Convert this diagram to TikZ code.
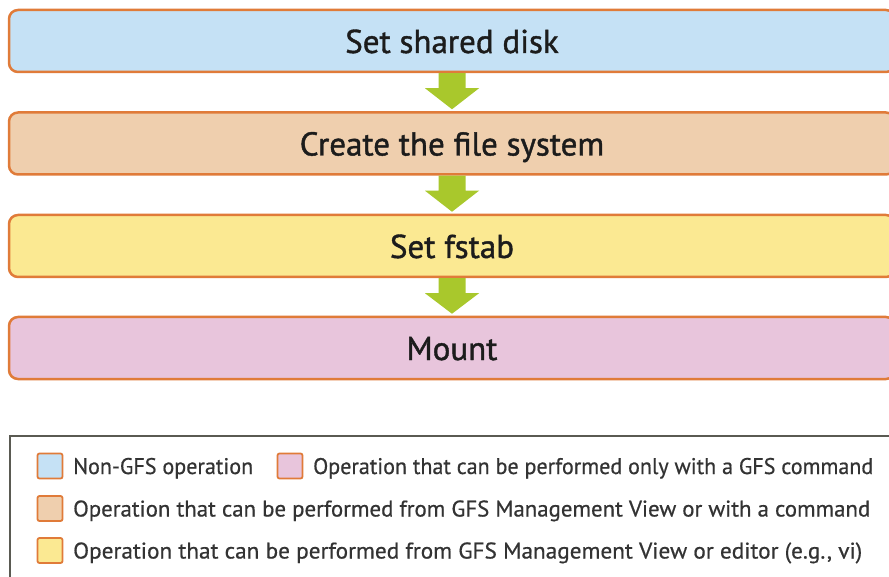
\documentclass[tikz,border=0pt]{standalone}
\usepackage{fontspec}
\usepackage{graphicx}
\setmainfont{PT Sans}
\newfontfamily\boxfont[FakeBold=1.2]{PT Sans}
\newfontfamily\legfont[FakeBold=0.6]{PT Sans}
\newcommand\fitw[2]{\resizebox{#1}{\height}{#2}}
\usetikzlibrary{calc}
\definecolor{cblue}{HTML}{C5E1F5}
\definecolor{cpeach}{HTML}{EFCFAE}
\definecolor{cyellow}{HTML}{FBE992}
\definecolor{cpink}{HTML}{E8C5DC}
\definecolor{cborder}{HTML}{E07B39}
\definecolor{carrow}{HTML}{A9C82C}
\definecolor{clegend}{HTML}{5A5A52}
\definecolor{ctext}{HTML}{1C1C1C}
\definecolor{cltext}{HTML}{333333}
\tikzset{
  stepbox/.style={draw=cborder, line width=2.5pt, rounded corners=9pt,
    minimum width=886pt, minimum height=62pt, inner sep=0pt},
  steptext/.style={anchor=base, inner sep=0pt, text=ctext,
    font=\boxfont\fontsize{33}{40}\selectfont},
  flowarrow/.style={fill=carrow, draw=none},
  frame/.style={draw=clegend, line width=1.8pt, inner sep=0pt, anchor=north west,
    minimum width=900pt, minimum height=180pt},
  swatch/.style={draw=cborder, line width=1.8pt, rounded corners=2pt,
    minimum size=25pt, inner sep=0pt},
  legtext/.style={anchor=base west, inner sep=0pt, text=cltext,
    font=\legfont\fontsize{22.6}{26}\selectfont},
}
\begin{document}
\begin{tikzpicture}[x=1pt,y=-1pt]
\useasboundingbox (0,0) rectangle (889,577);
\clip (0,0) rectangle (889,577);
\fill[white] (0,0) rectangle (889,577);
% flow boxes
\node[stepbox, fill=cblue]   (b1) at (452,41)  {};
\node[stepbox, fill=cpeach]  (b2) at (452,143.5) {};
\node[stepbox, fill=cyellow] (b3) at (452,246) {};
\node[stepbox, fill=cpink]   (b4) at (452,348) {};
\node[steptext] (l1) at (452,53) {Set shared disk};
\node[steptext] (l2) at (452,155.5) {Create the file system};
\node[steptext] (l3) at (452,258) {Set fstab};
\node[steptext] (l4) at (452,360) {Mount};
% block arrows
\foreach \a/\b in {b1/b2, b2/b3, b3/b4}{
  \fill[flowarrow] ($(\a.south)+(-13.5,0)$) -- ($(\a.south)+(-13.5,15)$)
    -- ($(\a.south)+(-27,15)$) -- ($(\b.north)+(0,-2)$)
    -- ($(\a.south)+(27,15)$) -- ($(\a.south)+(13.5,15)$)
    -- ($(\a.south)+(13.5,0)$) -- cycle;
}
% legend
\node[frame] (lg) at (9,435) {};
\node[swatch, fill=cblue]   (s1) at (50,466) {};
\node[swatch, fill=cpink]   (s2) at (290,466) {};
\node[swatch, fill=cpeach]  (s3) at (50,508.5) {};
\node[swatch, fill=cyellow] (s4) at (50,550.5) {};
\node[legtext] (t1) at (73,474) {\fitw{180pt}{Non-GFS operation}};
\node[legtext] (t2) at (313,474) {\fitw{560pt}{Operation that can be performed only with a GFS command}};
\node[legtext] (t3) at (73,516.5) {\fitw{797pt}{Operation that can be performed from GFS Management View or with a command}};
\node[legtext] (t4) at (73,558.5) {\fitw{789pt}{Operation that can be performed from GFS Management View or editor (e.g., vi)}};
\end{tikzpicture}
\end{document}
